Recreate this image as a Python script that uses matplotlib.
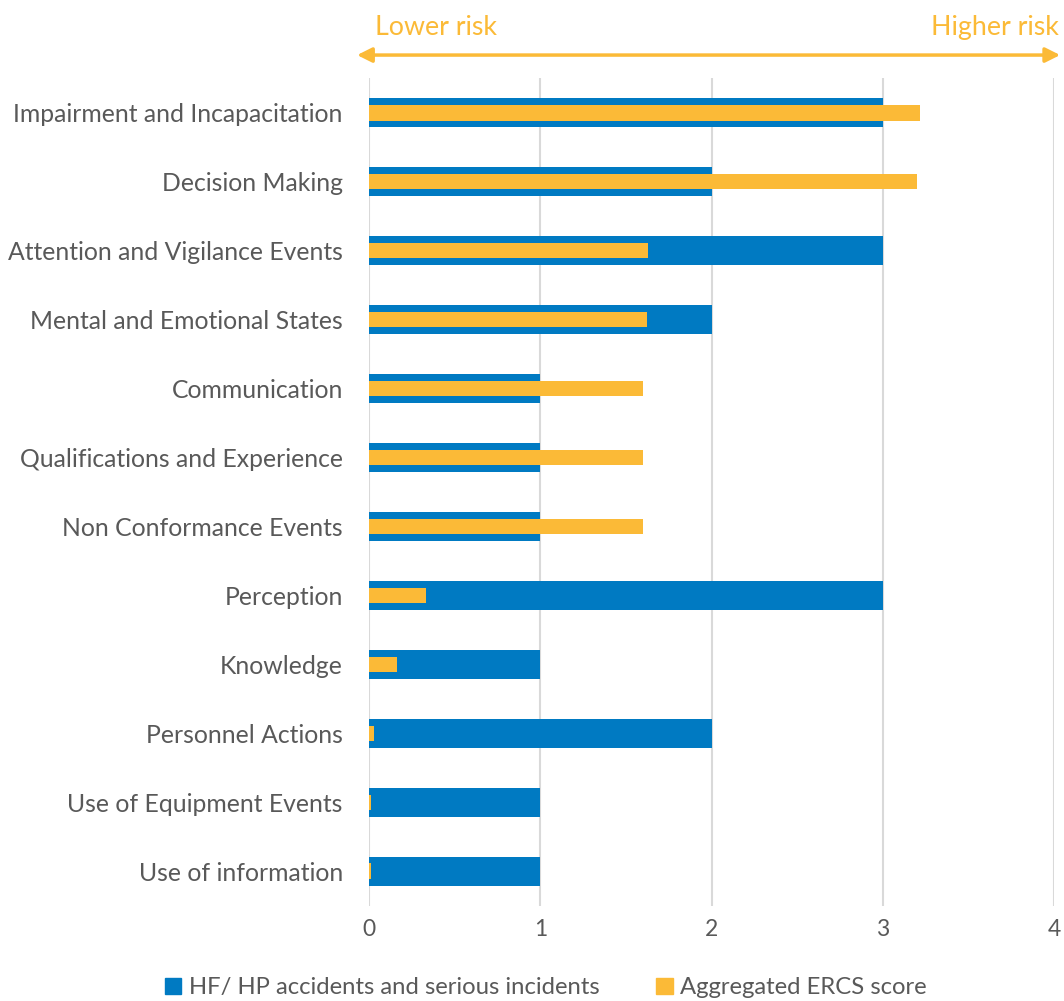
import matplotlib.pyplot as plt
from matplotlib.patches import Patch, FancyArrowPatch

# Categories, top to bottom
categories = [
    "Impairment and Incapacitation",
    "Decision Making",
    "Attention and Vigilance Events",
    "Mental and Emotional States",
    "Communication",
    "Qualifications and Experience",
    "Non Conformance Events",
    "Perception",
    "Knowledge",
    "Personnel Actions",
    "Use of Equipment Events",
    "Use of information",
]
accidents = [3, 2, 3, 2, 1, 1, 1, 3, 1, 2, 1, 1]
ercs_score = [3.22, 3.2, 1.63, 1.62, 1.6, 1.6, 1.6, 0.33, 0.16, 0.03, 0.01, 0.01]
x_ticks = [0, 1, 2, 3, 4]

blue = "#007AC2"
orange = "#FBBA37"
grey_text = "#595959"

plt.rcParams['font.family'] = ['Lato', 'DejaVu Sans']

fig = plt.figure(figsize=(10.64, 10.01), dpi=100)
ax = fig.add_axes([0.347, 0.0954, 0.6436, 0.8262])

y = list(range(len(categories)))
ax.barh(y, accidents, height=0.42, color=blue, zorder=2)
ax.barh(y, ercs_score, height=0.22, color=orange, zorder=3)

ax.set_ylim(len(categories) - 0.5, -0.5)
ax.set_xlim(0, 4)
ax.set_yticks(y)
ax.set_yticklabels(categories, fontsize=17.8, color=grey_text)
ax.set_xticks(x_ticks)
ax.set_xticklabels([str(t) for t in x_ticks], fontsize=16.5, color=grey_text)
ax.tick_params(axis='both', length=0, pad=10)
ax.tick_params(axis='y', pad=19)

ax.grid(axis='x', color='#D9D9D9', linewidth=1.5, zorder=0)
for s in ax.spines.values():
    s.set_visible(False)

# risk arrow on top
fig.patches.append(FancyArrowPatch(
    (0.333, 0.945), (0.999, 0.945), transform=fig.transFigure,
    arrowstyle='<|-|>', mutation_scale=22, color=orange, linewidth=2.5))
fig.text(0.352, 0.973, "Lower risk", color=orange, fontsize=19.3, va='center', ha='left')
fig.text(0.995, 0.973, "Higher risk", color=orange, fontsize=19.3, va='center', ha='right')

handles = [Patch(color=blue, label="HF/ HP accidents and serious incidents"),
           Patch(color=orange, label="Aggregated ERCS score")]
leg = fig.legend(handles=handles, loc='center', bbox_to_anchor=(0.513, 0.013),
                 ncol=2, frameon=False, fontsize=17.2, handlelength=0.7,
                 handleheight=0.7, handletextpad=0.3, columnspacing=2.4)
for t in leg.get_texts():
    t.set_color(grey_text)

fig.savefig("out.png", dpi=100)
